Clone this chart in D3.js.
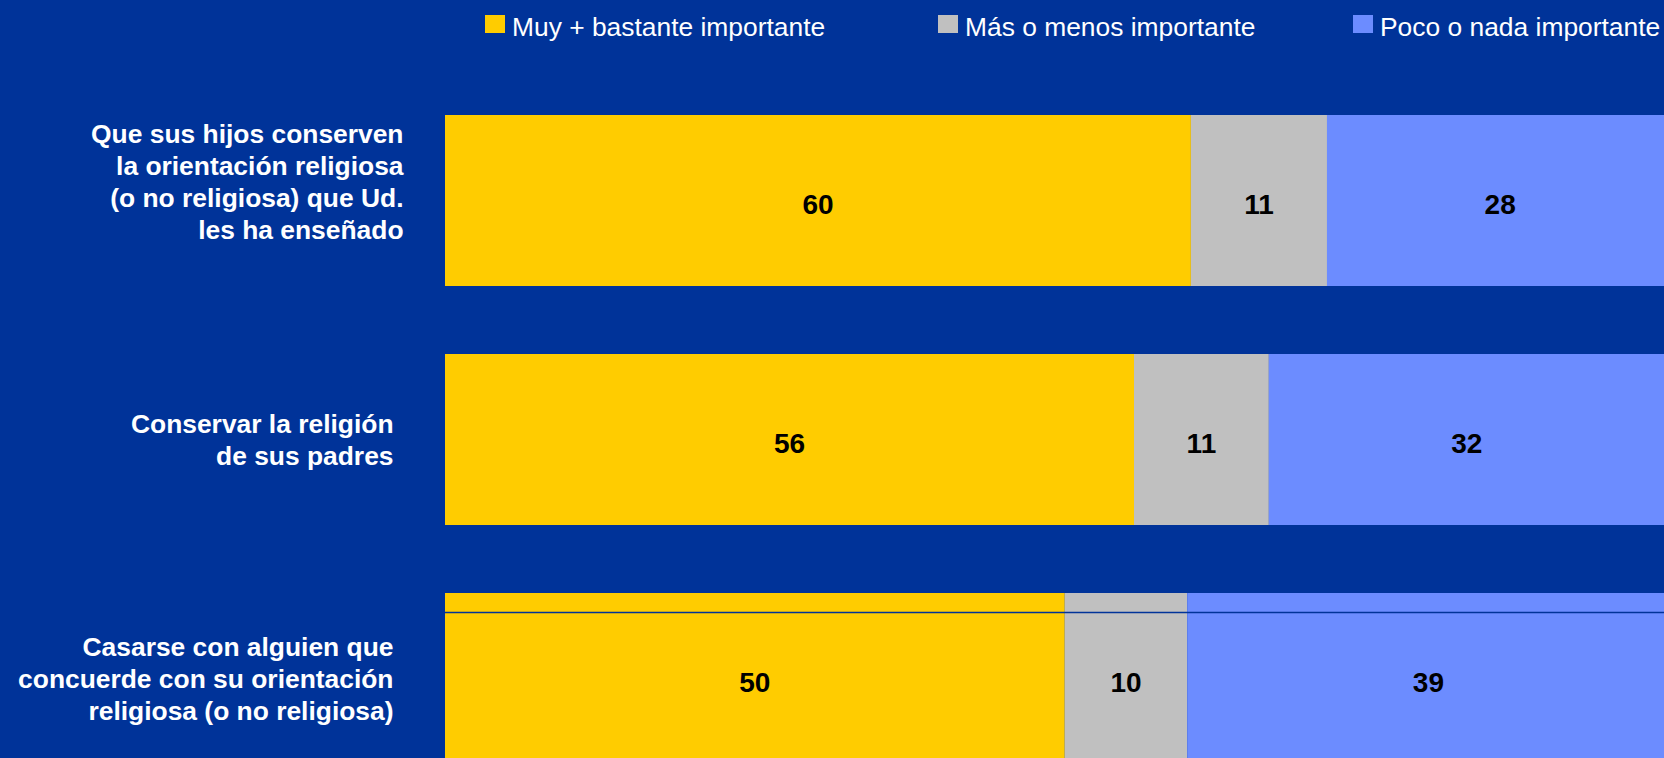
<!DOCTYPE html>
<html>
<head>
<meta charset="utf-8">
<script src="https://cdn.jsdelivr.net/npm/d3@7"></script>
<style>
  html, body { margin: 0; padding: 0; background: #003399; overflow: hidden; }
  text { font-family: "Liberation Sans", Arial, sans-serif; }
</style>
</head>
<body>
<div id="chart"></div>
<script>
// data (segment lengths, labels show rounded values)
var categories = [
    ["Que sus hijos conserven", "la orientación religiosa", "(o no religiosa) que Ud.", "les ha enseñado"],
    ["Conservar la religión", "de sus padres"],
    ["Casarse con alguien que", "concuerde con su orientación", "religiosa (o no religiosa)"]
];
var seriesNames = ["Muy + bastante importante", "Más o menos importante", "Poco o nada importante"];
var muyBastante = [60.3, 55.7, 50.1];
var masMenos = [11.0, 10.9, 9.9];
var pocoNada = [28.0, 32.0, 39.0];

var colors = ["#FFCC00", "#C0C0C0", "#6C8CFF"];

var width = 1664, height = 758;

var svg = d3.select("#chart")
    .append("svg")
    .attr("width", width)
    .attr("height", height);

svg.append("rect")
    .attr("width", width)
    .attr("height", height)
    .attr("fill", "#003399");

var x = d3.scaleLinear()
    .domain([0, 100])
    .range([445, 445 + 1237]);

var y = d3.scaleBand()
    .domain(d3.range(categories.length))
    .range([115, 764])
    .paddingInner(0.2845)
    .paddingOuter(0);

// stacked rows
var rows = categories.map(function(c, i) {
    return { i: i, vals: [muyBastante[i], masMenos[i], pocoNada[i]] };
});
var stack = d3.stack().keys([0, 1, 2]).value(function(d, k) { return d.vals[k]; });
var layers = stack(rows);

var g = svg.append("g");

layers.forEach(function(layer, k) {
    g.selectAll(".seg" + k)
        .data(layer).enter()
        .append("rect")
        .attr("x", function(d) { return x(d[0]); })
        .attr("y", function(d) { return y(d.data.i); })
        .attr("width", function(d) { return x(d[1]) - x(d[0]); })
        .attr("height", y.bandwidth())
        .attr("fill", colors[k]);

    g.selectAll(".lab" + k)
        .data(layer).enter()
        .append("text")
        .attr("x", function(d) { return (x(d[0]) + x(d[1])) / 2; })
        .attr("y", function(d) { return y(d.data.i) + y.bandwidth() / 2; })
        .attr("dy", "0.49em")
        .attr("text-anchor", "middle")
        .attr("font-size", "28px")
        .attr("font-weight", "bold")
        .attr("fill", "#000")
        .text(function(d) { return Math.round(d[1] - d[0]); });
});

// thin line crossing the last bar
var last = categories.length - 1;
svg.append("line")
    .attr("x1", x(0))
    .attr("x2", width)
    .attr("y1", y(last) + 19.5)
    .attr("y2", y(last) + 19.5)
    .attr("stroke", "#003399")
    .attr("stroke-width", 1.5);

// category labels (right aligned, wrapped)
var lineH = 31.8;
var nudge = [{dx: 10, dy: -19}, {dx: 0, dy: 0}, {dx: 0, dy: 0}];
categories.forEach(function(lines, i) {
    var cy = y(i) + y.bandwidth() / 2 + nudge[i].dy;
    var t = svg.append("text")
        .attr("text-anchor", "end")
        .attr("font-size", "26.4px")
        .attr("font-weight", "bold")
        .attr("fill", "#fff");
    lines.forEach(function(line, j) {
        t.append("tspan")
            .attr("x", 393.5 + nudge[i].dx)
            .attr("y", cy + (j - (lines.length - 1) / 2) * lineH)
            .attr("dy", "0.36em")
            .text(line);
    });
});

// legend
var legendX = [485, 938, 1353];
var legend = svg.selectAll(".legend")
    .data(seriesNames).enter()
    .append("g")
    .attr("transform", function(d, i) { return "translate(" + legendX[i] + ",0)"; });

legend.append("rect")
    .attr("x", 0)
    .attr("y", 15)
    .attr("width", 20)
    .attr("height", 18)
    .attr("fill", function(d, i) { return colors[i]; });

legend.append("text")
    .attr("x", 27)
    .attr("y", 35.7)
    .attr("font-size", "26.4px")
    .attr("fill", "#fff")
    .text(function(d) { return d; });
</script>
</body>
</html>
